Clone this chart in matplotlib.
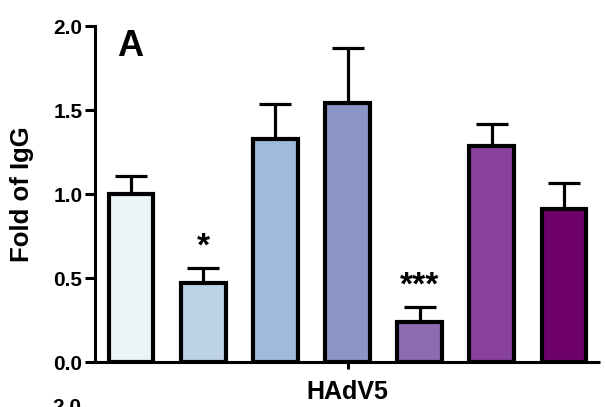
import matplotlib
matplotlib.use("Agg")
import matplotlib.pyplot as plt
import numpy as np

plt.rcParams['font.family'] = ['Liberation Sans', 'DejaVu Sans']
plt.rcParams['font.weight'] = 'bold'

values = [1.00, 0.47, 1.33, 1.54, 0.24, 1.285, 0.91]
errors = [0.11, 0.09, 0.205, 0.33, 0.09, 0.13, 0.155]
colors = ['#EAF5F8', '#BED3E8', '#9EBCDA', '#8C96C6', '#8C6BB1', '#88419D', '#6E016B']
stars = ['', '*', '', '', '***', '', '']
group_label = 'HAdV5'
panel_label = 'A'
ylabel = 'Fold of IgG'
yticks = [0.0, 0.5, 1.0, 1.5, 2.0]

W, H = 605, 407
fig = plt.figure(figsize=(W / 100, H / 100), dpi=100)
ax = fig.add_axes([95 / W, (H - 362) / H, 505 / W, 336 / H])

x = np.arange(len(values)) - (len(values) - 1) / 2
ax.errorbar(x, values, yerr=[np.zeros(len(values)), errors], fmt='none',
            ecolor='black', elinewidth=2.3, capsize=11.5, capthick=2.3, zorder=1)
ax.bar(x, values, width=0.62, color=colors, edgecolor='black', linewidth=3.0, zorder=2)

for xi, v, e, s in zip(x, values, errors, stars):
    if s:
        ax.text(xi, v + e + 0.03, s, ha='center', va='bottom', fontsize=24, fontweight='bold')

ax.set_xlim(-3.5, 3.5)
ax.set_ylim(0, 2.0)
ax.set_yticks(yticks)
ax.set_yticklabels([f'{t:.1f}' for t in yticks], fontsize=15, fontweight='bold')
ax.set_xticks([0])
ax.set_xticklabels([group_label], fontsize=18, fontweight='bold')
ax.tick_params(axis='y', direction='out', length=7, width=2.2, pad=2)
ax.tick_params(axis='x', direction='out', length=5, width=2.2, pad=8)
for sp in ['top', 'right']:
    ax.spines[sp].set_visible(False)
for sp in ['left', 'bottom']:
    ax.spines[sp].set_linewidth(2.2)
ax.spines['bottom'].set_capstyle('butt')
ax.set_ylabel(ylabel, fontsize=18.5, fontweight='bold')
ax.yaxis.set_label_coords((34 - 95) / 505, 0.5)

ax.text(0.069, 0.94, panel_label, transform=ax.transAxes, fontsize=26,
        fontweight='bold', ha='center', va='center')

fig.text(81 / W, 1 - 398 / H, '2.0', ha='right', va='top', fontsize=15, fontweight='bold')

fig.savefig('out.png', dpi=100)
